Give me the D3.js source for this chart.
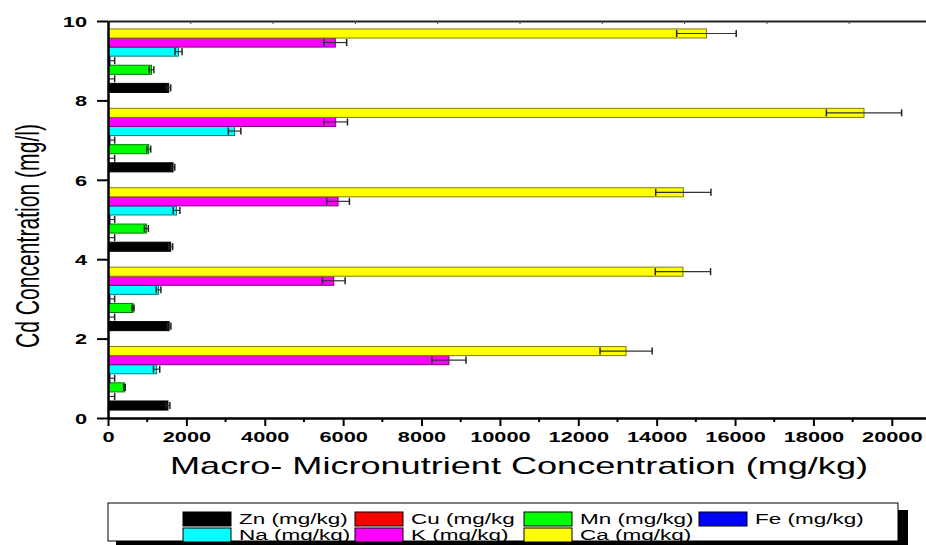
<!DOCTYPE html>
<html>
<head>
<meta charset="utf-8">
<script src="https://cdn.jsdelivr.net/npm/d3@7"></script>
<style>
  html, body { margin: 0; padding: 0; background: #fff; }
  svg { display: block; font-family: Arial, "Liberation Sans", sans-serif; }
</style>
</head>
<body>
<svg id="chart" width="926" height="545"></svg>
<script>
// Group centres on the Cd axis (mg/l), one cluster of seven nutrient bars each
const groupCentres = [1, 3, 5, 7, 9];

const seriesNames = ["Zn (mg/kg)", "Cu (mg/kg", "Mn (mg/kg)", "Fe (mg/kg)", "Na (mg/kg)", "K (mg/kg)", "Ca (mg/kg)"];
const seriesColors = ["#000000", "#ff0000", "#00ff00", "#0000ff", "#00ffff", "#ff00ff", "#ffff00"];

// Mean concentrations (mg/kg), one value per group, bottom to top
const zn = [1530, 1560, 1600, 1660, 1550];
const cu = [10, 10, 10, 10, 10];
const mn = [420, 640, 980, 1040, 1110];
const fe = [50, 50, 50, 50, 50];
const na = [1240, 1290, 1750, 3230, 1800];
const k  = [8700, 5760, 5870, 5810, 5800];
const ca = [13220, 14670, 14680, 19290, 15270];

// Standard deviations (mg/kg)
const znErr = [50, 45, 50, 45, 50];
const cuErr = [160, 160, 160, 160, 160];
const mnErr = [20, 25, 50, 50, 60];
const feErr = [120, 120, 120, 120, 120];
const naErr = [80, 60, 85, 160, 90];
const kErr  = [435, 290, 290, 300, 290];
const caErr = [665, 705, 705, 960, 760];

const xTicks = [0, 2000, 4000, 6000, 8000, 10000, 12000, 14000, 16000, 18000, 20000];
const xMinorTicks = [1000, 3000, 5000, 7000, 9000, 11000, 13000, 15000, 17000, 19000];
const yTicks = [0, 2, 4, 6, 8, 10];

const means = [zn, cu, mn, fe, na, k, ca];
const errs = [znErr, cuErr, mnErr, feErr, naErr, kErr, caErr];

const rows = [];
seriesNames.forEach((s, si) => {
  groupCentres.forEach((c, gi) => {
    rows.push({ series: s, si, centre: c, value: means[si][gi], err: errs[si][gi] });
  });
});

const svg = d3.select("#chart");
const plotLeft = 108, plotRight = 931, plotTop = 21, plotBottom = 418;

const x = d3.scaleLinear().domain([0, 21000]).range([plotLeft, plotRight]);
const y = d3.scaleLinear().domain([0, 10]).range([plotBottom, plotTop]);
// Position of each nutrient inside its cluster, in Cd-axis units
const inner = d3.scaleBand().domain(seriesNames).range([-0.8, 0.8]);
const bw = inner.bandwidth();
const barH = y(0) - y(bw);

svg.append("rect").attr("width", 926).attr("height", 545).attr("fill", "#fff");

svg.append("defs").append("clipPath").attr("id", "plotClip")
  .append("rect").attr("x", plotLeft).attr("y", 0).attr("width", plotRight - plotLeft).attr("height", plotBottom);

const plot = svg.append("g").attr("clip-path", "url(#plotClip)");

// Bars
plot.selectAll("rect.bar").data(rows).join("rect")
  .attr("class", "bar")
  .attr("x", x(0))
  .attr("y", d => y(d.centre + inner(d.series) + bw))
  .attr("width", d => x(d.value) - x(0))
  .attr("height", barH)
  .attr("fill", d => seriesColors[d.si])
  .attr("stroke", d => d3.rgb(seriesColors[d.si]).darker(2).formatHex())
  .attr("stroke-width", 1);

// Error bars: horizontal whisker with caps at both ends
const eb = plot.selectAll("g.err").data(rows).join("g").attr("class", "err")
  .attr("transform", d => `translate(0,${y(d.centre + inner(d.series) + bw / 2)})`);
eb.append("line")
  .attr("x1", d => x(d.value - d.err)).attr("x2", d => x(d.value + d.err))
  .attr("stroke", "#333").attr("stroke-width", 1.2);
eb.append("line")
  .attr("x1", d => x(d.value - d.err)).attr("x2", d => x(d.value - d.err))
  .attr("y1", -barH / 2 + 1).attr("y2", barH / 2 - 1)
  .attr("stroke", "#222").attr("stroke-width", 1.5);
eb.append("line")
  .attr("x1", d => x(d.value + d.err)).attr("x2", d => x(d.value + d.err))
  .attr("y1", -barH / 2 + 1).attr("y2", barH / 2 - 1)
  .attr("stroke", "#222").attr("stroke-width", 1.5);

// Top frame line with unlabeled ticks
const topTicks = d3.range(0, 21001, 2100);
const topAxis = svg.append("g").attr("transform", `translate(0,${plotTop})`)
  .call(d3.axisTop(x).tickValues(topTicks).tickSize(-3).tickSizeOuter(0).tickFormat(""));
topAxis.select(".domain").attr("stroke", "#222").attr("stroke-width", 2);
topAxis.selectAll(".tick line").attr("stroke", "#444").attr("stroke-width", 1);

// Bottom axis
const xAxis = svg.append("g").attr("transform", `translate(0,${plotBottom})`)
  .call(d3.axisBottom(x).tickValues(xTicks).tickSize(8).tickSizeOuter(0).tickPadding(6).tickFormat(d3.format("d")));
xAxis.select(".domain").attr("stroke", "#000").attr("stroke-width", 2.5);
xAxis.selectAll(".tick line").attr("stroke", "#000").attr("stroke-width", 2);
xAxis.selectAll(".tick text")
  .attr("fill", "#000").attr("font-size", 14.5).attr("font-weight", "bold")
  .attr("font-family", "Arial, 'Liberation Sans', sans-serif")
  .attr("y", 24).attr("dy", 0)
  .attr("transform", "scale(1.5,1)");
svg.append("g").attr("transform", `translate(0,${plotBottom})`)
  .selectAll("line").data(xMinorTicks).join("line")
  .attr("x1", d => x(d)).attr("x2", d => x(d)).attr("y1", 0).attr("y2", 4)
  .attr("stroke", "#000").attr("stroke-width", 2);

// Left axis
const yAxis = svg.append("g").attr("transform", `translate(${plotLeft},0)`)
  .call(d3.axisLeft(y).tickValues(yTicks).tickSize(11).tickSizeOuter(0).tickFormat(d3.format("d")));
yAxis.select(".domain").attr("stroke", "#000").attr("stroke-width", 2.5);
yAxis.selectAll(".tick line").attr("stroke", "#000").attr("stroke-width", 2);
yAxis.selectAll(".tick text")
  .attr("fill", "#000").attr("font-size", 14.5).attr("font-weight", "bold")
  .attr("font-family", "Arial, 'Liberation Sans', sans-serif")
  .attr("x", -14).attr("dy", "0.36em")
  .attr("transform", "scale(1.5,1)");

// Axis titles
svg.append("text")
  .attr("x", 170).attr("y", 474)
  .attr("font-size", 24).attr("fill", "#000")
  .attr("textLength", 698).attr("lengthAdjust", "spacingAndGlyphs")
  .text("Macro- Micronutrient Concentration (mg/kg)");

svg.append("text")
  .attr("transform", "translate(39,236) rotate(-90)")
  .attr("text-anchor", "middle")
  .attr("font-size", 34).attr("fill", "#000")
  .attr("textLength", 224).attr("lengthAdjust", "spacingAndGlyphs")
  .text("Cd Concentration (mg/l)");

// Legend with drop shadow
const legend = svg.append("g");
legend.append("rect").attr("x", 116).attr("y", 510).attr("width", 792).attr("height", 38).attr("fill", "#000");
legend.append("rect").attr("x", 108).attr("y", 503).attr("width", 790).attr("height", 38)
  .attr("fill", "#fff").attr("stroke", "#000").attr("stroke-width", 1);

const colX = [183, 355, 524, 699];
const rowY = [512, 528];
const items = legend.selectAll("g.item").data(seriesNames).join("g").attr("class", "item")
  .attr("transform", (d, i) => `translate(${colX[i % 4]},${rowY[Math.floor(i / 4)]})`);
items.append("rect")
  .attr("width", 48).attr("height", 14)
  .attr("fill", (d, i) => seriesColors[i])
  .attr("stroke", "#000").attr("stroke-width", 1);
items.append("text")
  .attr("transform", "translate(56,12) scale(1.55,1)")
  .attr("font-size", 14.5).attr("fill", "#000")
  .text(d => d);
</script>
</body>
</html>
